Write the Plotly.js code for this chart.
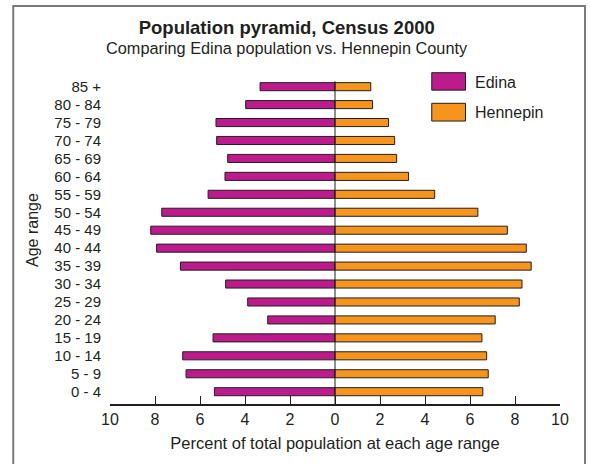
<!DOCTYPE html>
<html>
<head>
<meta charset="utf-8">
<script src="https://cdn.plot.ly/plotly-3.0.1.min.js"></script>
<style>
html,body{margin:0;padding:0;background:#fff;}
#chart{width:590px;height:464px;}
</style>
</head>
<body>
<div id="chart"></div>
<script>
const ageGroups = ["0 - 4","5 - 9","10 - 14","15 - 19","20 - 24","25 - 29","30 - 34","35 - 39","40 - 44","45 - 49","50 - 54","55 - 59","60 - 64","65 - 69","70 - 74","75 - 79","80 - 84","85 +"];
const edina    = [5.36, 6.62, 6.77, 5.42, 2.99, 3.88, 4.86, 6.87, 7.93, 8.19, 7.70, 5.64, 4.89, 4.77, 5.26, 5.29, 3.97, 3.33];
const hennepin = [6.57, 6.81, 6.74, 6.53, 7.12, 8.19, 8.31, 8.72, 8.50, 7.66, 6.35, 4.43, 3.27, 2.74, 2.65, 2.38, 1.67, 1.59];
const xTickVals = [-10,-8,-6,-4,-2,0,2,4,6,8,10];
const xTickText = ["10","8","6","4","2","0","2","4","6","8","10"];

const FONT = "'Liberation Sans', Arial, sans-serif";
const INK = "#231f20";
const EDINA_COLOR = "#bd1a8d";
const HENNEPIN_COLOR = "#f7941d";

const traces = [
  {type:"bar", orientation:"h", name:"Edina", y:ageGroups, x:edina.map(v=>-v),
   marker:{color:EDINA_COLOR, line:{color:INK, width:1}}, width:0.45, showlegend:false, hoverinfo:"skip"},
  {type:"bar", orientation:"h", name:"Hennepin", y:ageGroups, x:hennepin,
   marker:{color:HENNEPIN_COLOR, line:{color:INK, width:1}}, width:0.45, showlegend:false, hoverinfo:"skip"}
];

const layout = {
  width:590, height:464,
  margin:{l:110, r:30, t:75, b:60},
  paper_bgcolor:"#fff", plot_bgcolor:"#fff",
  font:{family:FONT, color:INK, size:15},
  barmode:"overlay",
  title:{text:"<b>Population pyramid, Census 2000</b>", font:{family:FONT, size:18.5, color:INK},
         x:0.486, xanchor:"center", xref:"container", y:1-28/464, yanchor:"middle", yref:"container"},
  xaxis:{range:[-10,10], tickvals:xTickVals, ticktext:xTickText, ticks:"inside", ticklen:8, tickcolor:INK,
         showline:true, linecolor:INK, linewidth:1.5, showgrid:false, zeroline:false,
         tickfont:{size:16, family:FONT, color:INK},
         title:{text:"Percent of total population at each age range", font:{size:16.5, family:FONT, color:INK}, standoff:10},
         fixedrange:true},
  yaxis:{type:"category", categoryorder:"array", categoryarray:ageGroups, tickvals:ageGroups, range:[-0.686, 17.65],
         showline:false, showgrid:false, zeroline:false, ticks:"", tickfont:{size:15, family:FONT, color:INK},
         ticklabelstandoff:8, fixedrange:true},
  shapes:[
    {type:"line", xref:"x", yref:"y", x0:0, x1:0, y0:-0.686, y1:17.3, line:{color:INK, width:1}},
    {type:"path", xref:"paper", yref:"paper", path:"M -0.215,-0.25 L -0.215,1.2097 L 1.0556,1.2097 L 1.0556,-0.25",
     line:{color:"#7a7a7a", width:2}},
    {type:"rect", xref:"paper", yref:"paper", x0:0.715, x1:0.790, y0:0.954, y1:1.007,
     fillcolor:EDINA_COLOR, line:{color:INK, width:1}},
    {type:"rect", xref:"paper", yref:"paper", x0:0.715, x1:0.790, y0:0.860, y1:0.914,
     fillcolor:HENNEPIN_COLOR, line:{color:INK, width:1}}
  ],
  annotations:[
    {text:"Comparing Edina population vs. Hennepin County", xref:"paper", yref:"paper",
     x:(287-110)/450, y:(404-48)/329, xanchor:"center", yanchor:"middle", showarrow:false,
     font:{size:16.3, family:FONT, color:INK}},
    {text:"Age range", xref:"paper", yref:"paper", x:(32-110)/450, y:(404-230)/329, textangle:-90,
     xanchor:"center", yanchor:"middle", showarrow:false, font:{size:16, family:FONT, color:INK}},
    {text:"Edina", xref:"paper", yref:"paper", x:0.807, y:(404-82)/329, xanchor:"left", yanchor:"middle",
     showarrow:false, font:{size:16, family:FONT, color:INK}},
    {text:"Hennepin", xref:"paper", yref:"paper", x:0.807, y:(404-112)/329, xanchor:"left", yanchor:"middle",
     showarrow:false, font:{size:16, family:FONT, color:INK}}
  ]
};

Plotly.newPlot("chart", traces, layout, {staticPlot:true, displayModeBar:false});
</script>
</body>
</html>
